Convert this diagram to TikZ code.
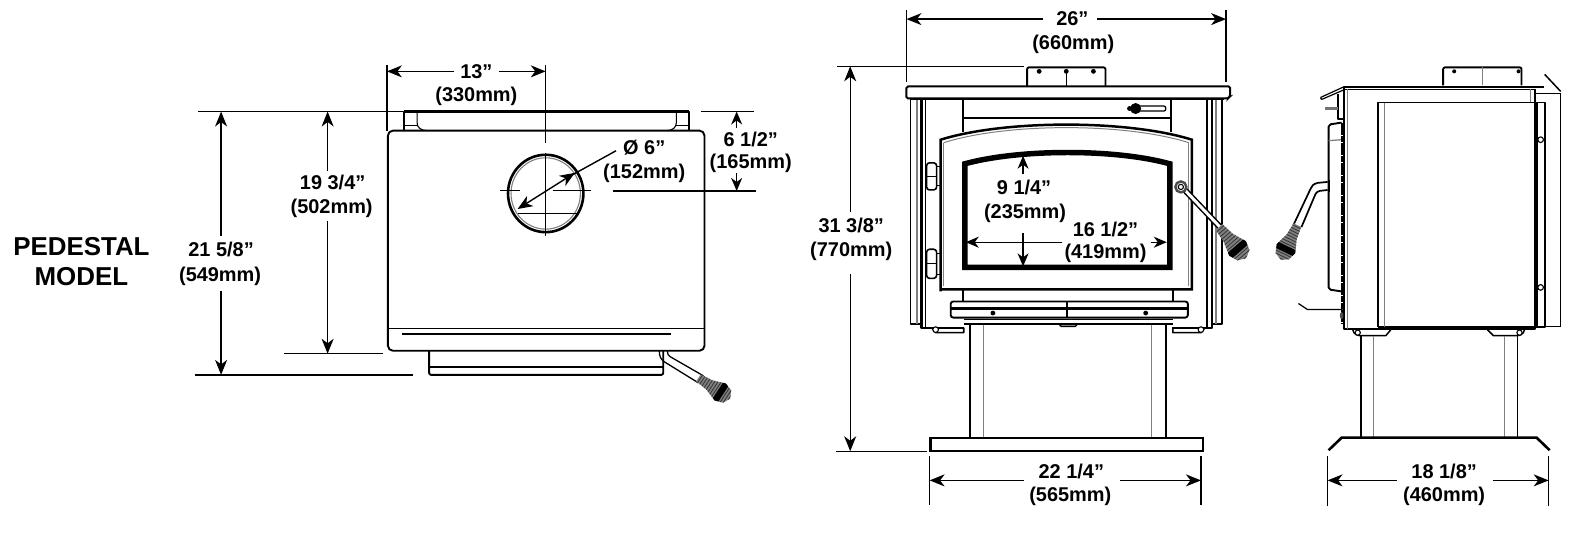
\documentclass[tikz,border=0pt]{standalone}
\usepackage{fontspec}
\setmainfont{Liberation Sans}
\usetikzlibrary{arrows.meta}
\tikzset{
 x=1.005bp,y=-1.005bp,
 dimline/.style={line width=1.4pt,black},
 arr/.style={dimline,-{Stealth[length=15pt,width=12pt,inset=4.5pt]}},
 sarr/.style={dimline,-{Stealth[length=13pt,width=11pt,inset=4pt]}},
 lab/.style={font=\fontsize{20}{20}\bfseries\selectfont,inner sep=0pt,align=center},
 bigl/.style={font=\fontsize{26}{26}\bfseries\selectfont,inner sep=0pt},
 ol/.style={line width=1.9pt,black,line join=round},
 thk/.style={line width=2.8pt,black,line join=round},
 tn/.style={line width=1.1pt,black},
 gl/.style={line width=1.3pt,black!50},
 gripshape/.pic={
  \begin{scope}
  \clip (0,-4.5) -- (14,-6) -- (28,-11) -- (37,-8) -- (41,0) -- (37,8) -- (28,11) -- (14,6) -- (0,4.5) -- cycle;
  \fill[black!50] (0,-12) rectangle (42,12);
  \foreach \q in {2,5,...,23,34,37,40} {\draw[line width=.8pt,black!80] (\q,-12) -- (\q,12);}
  \fill[black] (25,-12) rectangle (32,12);
  \end{scope}
 }
}
\begin{document}
\begin{tikzpicture}
\useasboundingbox (0,0) rectangle (1568.2,535.3);
\fill[white] (0,0) rectangle (1568.2,535.3);

% ---------- label
\node[bigl] (pa) at (81,245) {PEDESTAL};
\node[bigl] (pb) at (81,275) {MODEL};

% ---------- LEFT (top) VIEW
\draw[ol] (402,130) -- (402,111) -- (686,111) -- (686,130);
\draw[tn] (415,111) -- (415,122) .. controls (415,127) and (419,130) .. (425,130);
\draw[tn] (673,111) -- (673,122) .. controls (673,127) and (669,130) .. (663,130);
\draw[tn] (402,125) -- (415,125) (673,125) -- (686,125);
\draw[line width=2.6pt,black] (402,111) -- (686,111);
\draw[ol] (427,349) -- (427,370) [rounded corners=2pt] -- (427,373) -- (660,373) -- (660,349);
\draw[tn,line width=1.4pt] (427,365) -- (660,365);
\draw[ol,rounded corners=5pt] (386,130) rectangle (701,349);
\draw[tn,line width=1.3pt] (386,327) -- (701,327);
\draw[line width=1.9pt] (400,332) -- (668,332);
\draw[thk,line width=2.6pt] (543,192.5) ellipse [x radius=37.5,y radius=38.5];
\draw[gl,line width=1.1pt] (543,192.5) ellipse [x radius=34.5,y radius=35.5];
\draw[tn] (498,190) -- (517,190) (550,190) -- (588,190) (515,212) -- (574,212);
\draw[tn] (543,65) -- (543,142) (543,152) -- (543,235);
% handle
\draw[tn,line width=1.3pt] (656,349) .. controls (656,355) and (658,358) .. (661,360) -- (695,381);
\draw[tn,line width=1.3pt] (664,349) .. controls (664,352) and (665,354) .. (667,355) -- (700,374);
\pic[rotate=-33,scale=.92] at (695,376) {gripshape};

% dims of left view
\draw[dimline] (385,65) -- (385,130);
\draw[dimline] (197,111) -- (401,111) (698,111) -- (750,111);
\draw[dimline] (283,352) -- (381,352) (194,373) -- (411,373) (610,190) -- (752,190);
\coordinate (a1) at (385,71); \coordinate (a2) at (543,71);
\node[lab] (t13) at (474,71) {13”};
\node[lab] (t330) at (474,96) {(330mm)};
\draw[arr] (t13.west)++(-6,0) -- (a1);
\draw[arr] (t13.east)++(6,0) -- (a2);
\node[lab] (t19) at (331,182) {19 3/4”};
\node[lab] (t502) at (330,207) {(502mm)};
\draw[arr] (326,170) -- (326,111);
\draw[arr] (326,220) -- (326,352);
\node[lab] (t21) at (220,248) {21 5/8”};
\node[lab] (t549) at (219,275) {(549mm)};
\draw[arr] (220,235) -- (220,111);
\draw[arr] (220,290) -- (220,373);
\node[lab] (t6a) at (747,139) {6 1/2”};
\node[lab] (t165) at (747,163) {(165mm)};
\draw[sarr] (733,127) -- (733,111);
\draw[sarr] (733,172) -- (733,190);
\node[lab] (t6d) at (641,147) {Ø 6”};
\node[lab] (t152) at (641,172) {(152mm)};
\coordinate (d1) at (515,208); \coordinate (d2) at (572,172);
\draw[dimline,{Stealth[length=15pt,width=12pt,inset=4.5pt]}-{Stealth[length=15pt,width=12pt,inset=4.5pt]}] (d1) -- (d2);
\draw[dimline] (565,176.5) -- (613,150);

% ---------- FRONT VIEW
\draw[ol,rounded corners=2pt] (1022,86) -- (1022,67) -- (1100,67) -- (1100,86);
\draw[tn] (1061,70) -- (1061,86);
\foreach \q in {1034,1061,1088} {\fill (\q,71) circle (2.4);}
% side walls
\draw[ol,line width=1.8pt] (906,99) -- (906,322) -- (917,322);
\draw[gl,line width=2pt] (912,99) -- (912,322);
\draw[thk,line width=2.2pt] (917,99) -- (917,326) -- (959,326);
\draw[tn] (921,99) -- (921,326);
\draw[ol,line width=1.8pt] (1216,99) -- (1216,322) -- (1207,322);
\draw[gl,line width=2pt] (1210,99) -- (1210,322);
\draw[thk,line width=2.2pt] (1206,99) -- (1206,326) -- (1166,326);
\draw[tn] (1201,99) -- (1201,326);
\draw[line width=2pt,rounded corners=1.5pt] (902,90) -- (902,86) -- (1224,86) -- (1224,96) -- (1222,98) -- (902,98) -- cycle;
\draw[line width=1.2pt,rounded corners=1pt] (905,99) -- (1218,99);
% damper panel
\draw[ol] (958,99) -- (958,131) (1165,99) -- (1165,131);
\draw[ol] (958,117) -- (1165,117);
\draw[tn,line width=1.3pt,rounded corners=2pt] (1130,105.5) rectangle (1160,110.5);
\fill (1130,108) circle (5.5);
\fill (1124,108) circle (2.5);
% door
\draw[line width=2.5pt,line join=miter,fill=white] (936,290) -- (936,139) .. controls (1000,119) and (1122,119) .. (1186,139) -- (1186,288) -- (936,288);
\draw[gl,line width=1pt] (939,142) .. controls (1002,122) and (1120,122) .. (1183,142);
\draw[gl,line width=1pt] (939,142) -- (939,285) (1183,285) -- (1183,142);
\draw[line width=5.5pt,line join=miter] (960,163) .. controls (1015,148) and (1110,148) .. (1164,163) -- (1164,266) -- (960,266) -- cycle;
% hinges
\foreach \a/\b in {162/189,248/277} {
 \draw[ol,line width=1.6pt,fill=white,rounded corners=3pt] (922,\a) rectangle (932,\b);
 \draw[tn] (922,{(\a+\b)/2}) -- (932,{(\a+\b)/2});
 \draw[tn] (932,\a+4) -- (936,\a+4) -- (936,\b-4) -- (932,\b-4);
}
% below door
\draw[ol] (958,288) -- (958,300) (1167,288) -- (1167,300);
\draw[ol,fill=white,rounded corners=2.5pt] (946,300) rectangle (1182,316);
\draw[line width=2.6pt] (946,307) -- (1182,307);
\draw[ol] (1062,300) -- (1062,316);
\fill (988,311.5) circle (2.4) (1140,311.5) circle (2.4);
\draw[tn] (959,318) -- (1167,318);
\draw[line width=2pt] (959,322.5) -- (1167,322.5);
\draw[tn,fill=black!40] (1054,323) -- (1056,325) -- (1070,325) -- (1072,323) -- cycle;
% feet
\draw[ol,line width=1.6pt] (927,326) -- (931,331) -- (959,331) -- (959,326);
\draw[tn,fill=white] (931,328) circle (2.8);
\draw[ol,line width=1.6pt] (1199,326) -- (1195,331) -- (1167,331) -- (1167,326);
\draw[tn,fill=white] (1195,328) circle (2.8);
% pedestal
\draw[ol] (965,323) -- (965,436) (1160,323) -- (1160,436);
\draw[gl,line width=1.2pt] (979,323) -- (979,436) (1146,323) -- (1146,436);
\draw[line width=2.4pt] (926,436) rectangle (1197,449);
% handle
\draw[line width=6pt,black] (1176,186) -- (1215,227);
\draw[line width=3pt,white] (1176,186) -- (1215,227);
\draw[line width=2.4pt,black!70,fill=white] (1175,186) circle (5.5);
\draw[tn,fill=white] (1175,186) circle (2.6);
\pic[rotate=-49] at (1213,226) {gripshape};

% dims of front view
\draw[dimline] (902,10) -- (902,82) (1220,10) -- (1220,82);
\node[lab] (t26) at (1067,19) {26”};
\node[lab] (t660) at (1068,44) {(660mm)};
\draw[arr] (1038,19) -- (902,19);
\draw[arr] (1092,19) -- (1220,19);
\draw[dimline] (833,66) -- (1019,66);
\draw[dimline] (832,449) -- (922,449);
\node[lab] (t31) at (847,224) {31 3/8”};
\node[lab] (t770) at (847,250) {(770mm)};
\draw[arr] (846,211) -- (846,66);
\draw[arr] (846,273) -- (846,449);
\node[lab] (t9) at (1019,187) {9 1/4”};
\node[lab] (t235) at (1020,212) {(235mm)};
\draw[sarr] (1018,173) -- (1018,155);
\draw[sarr] (1018,232) -- (1018,265);
\node[lab] (t16) at (1100,228) {16 1/2”};
\node[lab] (t419) at (1100,252) {(419mm)};
\draw[sarr] (1057,241) -- (961,241);
\draw[sarr] (1145,241) -- (1161,241);
\draw[dimline] (925,454) -- (925,502) (1195,454) -- (1195,502);
\node[lab] (t22) at (1066,469) {22 1/4”};
\node[lab] (t565) at (1065,494) {(565mm)};
\draw[arr] (1019,478) -- (925,478);
\draw[arr] (1114,478) -- (1195,478);

% ---------- SIDE VIEW
\draw[ol,rounded corners=2pt] (1436,85) -- (1436,67) -- (1514,67) -- (1514,85);
\draw[gl,line width=1pt] (1475,67) -- (1475,85);
\fill (1447,71) circle (2) (1511,71) circle (2);
\draw[line width=2.4pt] (1337,86.5) -- (1536,86.5);
\draw[tn] (1337,89) -- (1527,89);
\draw[line width=1.2pt,black] (1338,86) -- (1314,97) (1337,89.5) -- (1315,99);
\draw[line width=1.4pt] (1314,97) -- (1315,99);
\draw[ol] (1337,87) -- (1337,327) -- (1527,327) -- (1527,89);
\draw[gl,line width=1pt] (1341,89) -- (1341,327);
\draw[gl,line width=1pt] (1523,89) -- (1523,102);
\draw[ol] (1371,325) -- (1371,102) -- (1537,102) -- (1537,325) -- (1371,325);
\draw[tn] (1371,325) -- (1527,325);
\draw[gl,line width=1.1pt] (1378,102) -- (1378,325);
\draw[line width=2.6pt] (1529,102) -- (1529,325);
\draw[tn,fill=white] (1533,139) circle (2.8) (1533,286) circle (2.8);
\draw[tn] (1527,93) -- (1553,93) -- (1553,324) (1538,324.5) -- (1553,324.5);
\draw[tn,line width=1.5pt] (1537,74) -- (1553,91);
\draw[ol] (1331,94) -- (1331,118) -- (1337,118);
\draw[line width=2.6pt,black!55] (1318,108) -- (1331,108);
\draw[ol,rounded corners=2pt] (1335,122) -- (1322,124) -- (1322,288) -- (1335,290);
\draw[gl] (1322,140) -- (1335,139);
\draw[line width=2pt,dash pattern=on 6pt off .7pt] (1335,122) -- (1335,322);
% handle
\draw[line width=1.7pt] (1321,181) -- (1311,182) .. controls (1307,183) and (1305,185) .. (1304,188) -- (1287,224);
\draw[line width=1.7pt] (1321,189) -- (1313,190) .. controls (1311,191) and (1310,191) .. (1309,193) -- (1295,226);
\fill (1321,179) rectangle (1323,191);
\pic[rotate=-116,scale=.93] at (1291,224) {gripshape};
% lip
\draw[ol,line width=1.2pt] (1292,302) -- (1301,308) -- (1336,308);
\fill[black!70] (1335,314) ellipse (1.8 and 3.5);
% feet
\draw[ol,line width=1.5pt] (1346,328) .. controls (1347,333) and (1351,334) .. (1354,334) -- (1379,334) -- (1384,328);
\draw[tn] (1384,328) -- (1354,328);
\draw[tn,fill=white] (1351,331) circle (2.6);
\draw[ol,line width=1.5pt] (1517,328) .. controls (1516,333) and (1512,334) .. (1509,334) -- (1486,334) -- (1480,328);
\draw[tn,fill=white] (1512,331) circle (2.6);
% pedestal
\draw[ol] (1354,333) -- (1354,436) (1510,333) -- (1510,436);
\draw[gl,line width=1.2pt] (1367,334) -- (1367,436) (1497,334) -- (1497,436);
\draw[line width=2.6pt,line join=miter] (1322,448) -- (1335,435.5) -- (1529,435.5) -- (1542,448);
% dim
\draw[dimline] (1321,454) -- (1321,503) (1541,454) -- (1541,503);
\node[lab] (t18) at (1437,469) {18 1/8”};
\node[lab] (t460) at (1437,494) {(460mm)};
\draw[arr] (1390,478) -- (1321,478);
\draw[arr] (1486,478) -- (1541,478);
\end{tikzpicture}
\end{document}
